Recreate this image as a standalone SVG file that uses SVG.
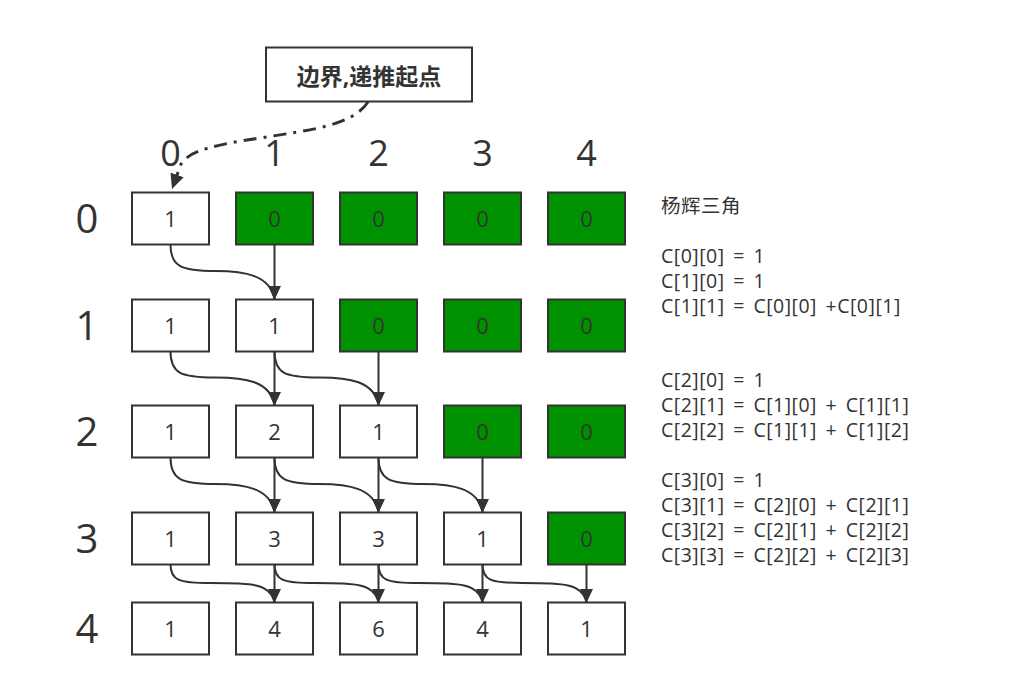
<svg xmlns="http://www.w3.org/2000/svg" width="1026" height="686" viewBox="0 0 1026 686">
<style>
text{font-family:"Open Sans","Noto Sans CJK SC",sans-serif;fill:#333}
.cell{fill:#fff;stroke:#333;stroke-width:2}
.g{fill:#009100}
.v{font-size:22px;text-anchor:middle}
.hd{font-size:36px;text-anchor:middle}
.rl{font-size:40px;text-anchor:middle}
.eq{font-size:19.5px;letter-spacing:0.5px;word-spacing:3px}
.ln{fill:none;stroke:#333;stroke-width:2;marker-end:url(#ah)}
.dash{fill:none;stroke:#333;stroke-width:3;stroke-dasharray:13,7,3,7;marker-end:url(#ah2)}
</style>
<defs>
<marker id="ah" markerUnits="userSpaceOnUse" markerWidth="14" markerHeight="14" viewBox="0 0 14 14" refX="14" refY="7" orient="90"><path d="M0,0.5 L14,7 L0,13.5 z" fill="#333"/></marker>
<marker id="ah2" markerUnits="userSpaceOnUse" markerWidth="16" markerHeight="16" viewBox="0 0 16 16" refX="15" refY="8" orient="auto"><path d="M0,1 L15,8 L0,15 z" fill="#333"/></marker>
</defs>
<rect width="1026" height="686" fill="#fff"/>

<g id="label">
<rect x="266" y="47.5" width="206" height="54" fill="#fff" stroke="#333" stroke-width="2"/>
<text x="369" y="85" style="font-size:23px;font-weight:bold;text-anchor:middle">边界,递推起点</text>
</g>

<g id="headers">
<text class="hd" x="170.5" y="166">0</text>
<text class="hd" x="274.5" y="166">1</text>
<text class="hd" x="378.5" y="166">2</text>
<text class="hd" x="482.5" y="166">3</text>
<text class="hd" x="586.5" y="166">4</text>
<text class="rl" x="87" y="233">0</text>
<text class="rl" x="87" y="340">1</text>
<text class="rl" x="87" y="446">2</text>
<text class="rl" x="87" y="553">3</text>
<text class="rl" x="87" y="643">4</text>
</g>

<g id="row0">
<g id="c00"><rect class="cell" x="132" y="192.5" width="77" height="52"/><text class="v" x="170.5" y="226.5">1</text></g>
<g id="c01"><rect class="cell g" x="236" y="192.5" width="77" height="52"/><text class="v" x="274.5" y="226.5">0</text></g>
<g id="c02"><rect class="cell g" x="340" y="192.5" width="77" height="52"/><text class="v" x="378.5" y="226.5">0</text></g>
<g id="c03"><rect class="cell g" x="444" y="192.5" width="77" height="52"/><text class="v" x="482.5" y="226.5">0</text></g>
<g id="c04"><rect class="cell g" x="548" y="192.5" width="77" height="52"/><text class="v" x="586.5" y="226.5">0</text></g>
</g>
<g id="row1">
<g id="c10"><rect class="cell" x="132" y="299.5" width="77" height="52"/><text class="v" x="170.5" y="333.5">1</text></g>
<g id="c11"><rect class="cell" x="236" y="299.5" width="77" height="52"/><text class="v" x="274.5" y="333.5">1</text></g>
<g id="c12"><rect class="cell g" x="340" y="299.5" width="77" height="52"/><text class="v" x="378.5" y="333.5">0</text></g>
<g id="c13"><rect class="cell g" x="444" y="299.5" width="77" height="52"/><text class="v" x="482.5" y="333.5">0</text></g>
<g id="c14"><rect class="cell g" x="548" y="299.5" width="77" height="52"/><text class="v" x="586.5" y="333.5">0</text></g>
</g>
<g id="row2">
<g id="c20"><rect class="cell" x="132" y="405.5" width="77" height="52"/><text class="v" x="170.5" y="439.5">1</text></g>
<g id="c21"><rect class="cell" x="236" y="405.5" width="77" height="52"/><text class="v" x="274.5" y="439.5">2</text></g>
<g id="c22"><rect class="cell" x="340" y="405.5" width="77" height="52"/><text class="v" x="378.5" y="439.5">1</text></g>
<g id="c23"><rect class="cell g" x="444" y="405.5" width="77" height="52"/><text class="v" x="482.5" y="439.5">0</text></g>
<g id="c24"><rect class="cell g" x="548" y="405.5" width="77" height="52"/><text class="v" x="586.5" y="439.5">0</text></g>
</g>
<g id="row3">
<g id="c30"><rect class="cell" x="132" y="512.5" width="77" height="52"/><text class="v" x="170.5" y="546.5">1</text></g>
<g id="c31"><rect class="cell" x="236" y="512.5" width="77" height="52"/><text class="v" x="274.5" y="546.5">3</text></g>
<g id="c32"><rect class="cell" x="340" y="512.5" width="77" height="52"/><text class="v" x="378.5" y="546.5">3</text></g>
<g id="c33"><rect class="cell" x="444" y="512.5" width="77" height="52"/><text class="v" x="482.5" y="546.5">1</text></g>
<g id="c34"><rect class="cell g" x="548" y="512.5" width="77" height="52"/><text class="v" x="586.5" y="546.5">0</text></g>
</g>
<g id="row4">
<g id="c40"><rect class="cell" x="132" y="602.5" width="77" height="52"/><text class="v" x="170.5" y="636.5">1</text></g>
<g id="c41"><rect class="cell" x="236" y="602.5" width="77" height="52"/><text class="v" x="274.5" y="636.5">4</text></g>
<g id="c42"><rect class="cell" x="340" y="602.5" width="77" height="52"/><text class="v" x="378.5" y="636.5">6</text></g>
<g id="c43"><rect class="cell" x="444" y="602.5" width="77" height="52"/><text class="v" x="482.5" y="636.5">4</text></g>
<g id="c44"><rect class="cell" x="548" y="602.5" width="77" height="52"/><text class="v" x="586.5" y="636.5">1</text></g>
</g>

<g id="connectors">
<path class="dash" d="M368,102 C352,126 310,130 260,138 C215,145 190,150 181,164 L172,189"/>
<!-- row0 to row1 -->
<path class="ln" d="M170.5,244.5 C170.5,266 180.5,271 215.5,271 C244.5,271 270.5,275 274.5,299.5"/>
<path class="ln" d="M274.5,244.5 L274.5,299.5"/>
<!-- row1 to row2 -->
<path class="ln" d="M170.5,351.5 C170.5,373 180.5,377.5 215.5,377.5 C244.5,377.5 270.5,381 274.5,405.5"/>
<path class="ln" d="M274.5,351.5 C274.5,373 284.5,377.5 319.5,377.5 C348.5,377.5 374.5,381 378.5,405.5"/>
<path class="ln" d="M274.5,351.5 L274.5,405.5"/>
<path class="ln" d="M378.5,351.5 L378.5,405.5"/>
<!-- row2 to row3 -->
<path class="ln" d="M170.5,457.5 C170.5,479 180.5,484 215.5,484 C244.5,484 270.5,488 274.5,512.5"/>
<path class="ln" d="M274.5,457.5 C274.5,479 284.5,484 319.5,484 C348.5,484 374.5,488 378.5,512.5"/>
<path class="ln" d="M378.5,457.5 C378.5,479 388.5,484 423.5,484 C452.5,484 478.5,488 482.5,512.5"/>
<path class="ln" d="M274.5,457.5 L274.5,512.5"/>
<path class="ln" d="M378.5,457.5 L378.5,512.5"/>
<path class="ln" d="M482.5,457.5 L482.5,512.5"/>
<!-- row3 to row4 -->
<path class="ln" d="M170.5,564.5 C170.5,580 178.5,583 210.5,583 C250.5,583 270.5,583 274.5,602.5"/>
<path class="ln" d="M274.5,564.5 C274.5,580 282.5,583 314.5,583 C354.5,583 374.5,583 378.5,602.5"/>
<path class="ln" d="M378.5,564.5 C378.5,580 386.5,583 418.5,583 C458.5,583 478.5,583 482.5,602.5"/>
<path class="ln" d="M482.5,564.5 C482.5,580 490.5,583 522.5,583 C562.5,583 582.5,583 586.5,602.5"/>
<path class="ln" d="M274.5,564.5 L274.5,602.5"/>
<path class="ln" d="M378.5,564.5 L378.5,602.5"/>
<path class="ln" d="M482.5,564.5 L482.5,602.5"/>
<path class="ln" d="M586.5,564.5 L586.5,602.5"/>
</g>

<g id="notes">
<text class="eq" x="661" y="213">杨辉三角</text>
<text class="eq" x="661" y="263">C[0][0] = 1</text>
<text class="eq" x="661" y="288">C[1][0] = 1</text>
<text class="eq" x="661" y="313">C[1][1] = C[0][0] +C[0][1]</text>
<text class="eq" x="661" y="387">C[2][0] = 1</text>
<text class="eq" x="661" y="412">C[2][1] = C[1][0] + C[1][1]</text>
<text class="eq" x="661" y="437">C[2][2] = C[1][1] + C[1][2]</text>
<text class="eq" x="661" y="487">C[3][0] = 1</text>
<text class="eq" x="661" y="512">C[3][1] = C[2][0] + C[2][1]</text>
<text class="eq" x="661" y="537">C[3][2] = C[2][1] + C[2][2]</text>
<text class="eq" x="661" y="562">C[3][3] = C[2][2] + C[2][3]</text>
</g>
</svg>
